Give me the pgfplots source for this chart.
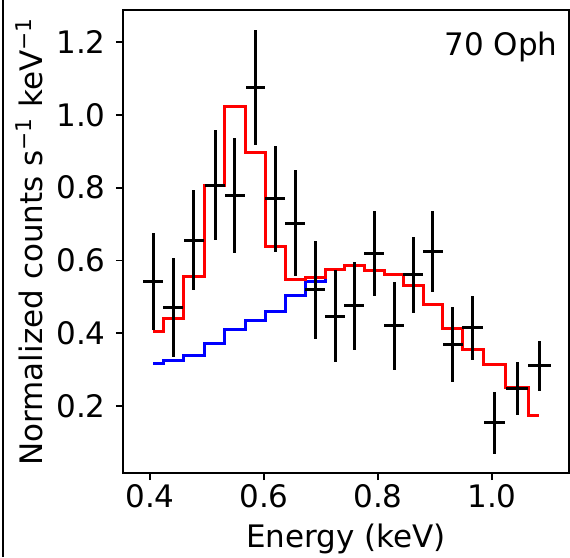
\documentclass[border=0pt]{standalone}
\usepackage{pgfplots}
\pgfplotsset{compat=1.18}
\usepackage{pgfplotstable}
\usepackage{fontspec}
\setmainfont{DejaVu Sans}

% observed spectrum: bin centre, rate, half bin width, 1-sigma error
\pgfplotstableread{
x      y      xe      ye
0.406  0.541  0.0175  0.133
0.441  0.471  0.0175  0.137
0.477  0.656  0.0175  0.138
0.514  0.807  0.0175  0.152
0.549  0.778  0.0175  0.157
0.585  1.076  0.0175  0.158
0.620  0.769  0.0175  0.146
0.655  0.702  0.0175  0.146
0.690  0.519  0.0175  0.135
0.725  0.447  0.0175  0.126
0.758  0.475  0.0175  0.121
0.793  0.619  0.0175  0.116
0.828  0.420  0.0175  0.120
0.862  0.560  0.0175  0.105
0.896  0.624  0.0175  0.112
0.931  0.368  0.0175  0.103
0.966  0.415  0.0180  0.088
1.004  0.154  0.0190  0.085
1.044  0.249  0.0197  0.073
1.083  0.310  0.0198  0.070
}\obs

% total model (red) and one component (blue), per bin
\pgfplotstableread{
x      tot    comp
0.406  0.404  0.317
0.441  0.441  0.324
0.477  0.555  0.338
0.514  0.807  0.373
0.549  1.024  0.410
0.585  0.896  0.434
0.620  0.638  0.459
0.655  0.547  0.505
0.690  0.552  0.541
0.725  0.575  0.575
0.758  0.587  0.587
0.793  0.572  0.572
0.828  0.562  0.562
0.862  0.530  0.530
0.896  0.480  0.480
0.931  0.413  0.413
0.966  0.354  0.354
1.004  0.313  0.313
1.044  0.250  0.250
1.083  0.175  0.175
}\model

\begin{document}
\begin{tikzpicture}
\begin{axis}[
    name=ax,
    scale only axis,
    width=223pt, height=231.5pt,
    xmin=0.3526, xmax=1.135,
    ymin=0.016, ymax=1.288,
    xtick={0.4,0.6,0.8,1.0},
    xticklabels={0.4,0.6,0.8,1.0},
    ytick={0.2,0.4,0.6,0.8,1.0,1.2},
    yticklabels={0.2,0.4,0.6,0.8,1.0,1.2},
    tick align=outside,
    major tick length=3.5pt,
    tick style={black, line width=0.9pt},
    axis line style={line width=1pt},
    xtick pos=bottom, ytick pos=left,
    tick label style={font=\fontsize{15.5}{18}\selectfont},
    label style={font=\fontsize{15.5}{18}\selectfont},
    xticklabel style={anchor=north, inner sep=0pt, yshift=-1.8pt},
    yticklabel style={anchor=east, inner sep=0pt, xshift=-5pt},
    xlabel={Energy (keV)},
    ylabel={Normalized counts s\textsuperscript{\char"2212 1} keV\textsuperscript{\char"2212 1}},
    xlabel style={at={(axis description cs:0.5,0)}, anchor=base, yshift=-37.3pt},
    ylabel style={at={(axis description cs:-0.1816,0.5)}, anchor=base},
]
\addplot[blue, line width=1.5pt, const plot mark mid] table[x=x, y=comp] {\model};
\addplot[red, line width=1.5pt, const plot mark mid] table[x=x, y=tot] {\model};
\addplot[draw=none, mark=none,
    error bars/.cd,
    x dir=both, x explicit,
    y dir=both, y explicit,
    error mark=none,
    error bar style={draw=black, solid, line width=1.5pt}]
    table[x=x, y=y, x error=xe, y error=ye] {\obs};
\node[anchor=north east, inner sep=0pt, font=\fontsize{15.5}{18}\selectfont]
    at (rel axis cs:0.9753,0.9525) {70 Oph};
\end{axis}
\pgfresetboundingbox
\path[use as bounding box] ([xshift=-61.5pt,yshift=-42pt]ax.south west)
    rectangle ([xshift=0.5pt,yshift=5pt]ax.north east);
\draw[line width=1pt] ([xshift=-60pt,yshift=-42pt]ax.south west)
    -- ([xshift=-60pt,yshift=5pt]ax.north west);
\end{tikzpicture}
\end{document}
